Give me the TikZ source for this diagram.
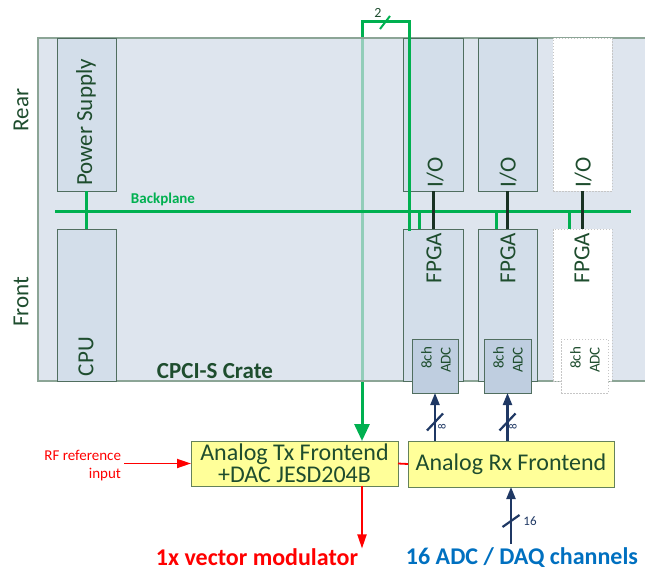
\documentclass[tikz,border=0pt]{standalone}
\usepackage{fontspec}
\setmainfont{Carlito}
\usetikzlibrary{arrows.meta}
\definecolor{crateFill}{RGB}{208,218,231}
\definecolor{crateLine}{RGB}{140,165,150}
\definecolor{modFill}{RGB}{211,222,234}
\definecolor{modLine}{RGB}{80,110,95}
\definecolor{adcFill}{RGB}{191,206,224}
\definecolor{bpGreen}{RGB}{0,176,80}
\definecolor{txtGreen}{RGB}{30,77,46}
\definecolor{yel}{RGB}{255,255,153}
\definecolor{yelLine}{RGB}{100,130,90}
\definecolor{navy}{RGB}{31,56,100}
\definecolor{blueTxt}{RGB}{0,112,192}
\definecolor{linkBlack}{RGB}{25,50,35}
\pgfdeclarelayer{back}
\pgfsetlayers{back,main}
\begin{document}
\begin{tikzpicture}[x=1pt,y=-1pt,
  every node/.style={inner sep=0pt, outer sep=0pt},
  crate/.style={draw=crateLine, line width=1.2pt, fill=crateFill, fill opacity=0.7, anchor=north west},
  module/.style={draw=modLine, line width=0.9pt, fill=modFill, anchor=north west},
  ghost/.style={draw=gray!45, line width=0.8pt, dash pattern=on 1.5pt off 1.5pt, fill=white, anchor=north west},
  adcbox/.style={module, fill=adcFill},
  vlab/.style={rotate=90, text=txtGreen, font=\fontsize{23}{23}\selectfont},
  adclab/.style={rotate=90, text=txtGreen, font=\fontsize{15}{19}\selectfont, align=right},
  bus/.style={draw=bpGreen, line width=3pt},
  link/.style={draw=linkBlack, line width=3pt},
  fe/.style={draw=yelLine, line width=1pt, fill=yel, anchor=north west, text=txtGreen, font=\fontsize{24}{22}\selectfont, align=center},
  redline/.style={draw=red, line width=1.8pt},
  navyline/.style={draw=navy, line width=2.2pt},
  gtip/.style={-{Triangle[length=17pt,width=15pt]}},
  rtip/.style={-{Triangle[length=14pt,width=9pt]}},
  ntip/.style={-{Triangle[length=12pt,width=9pt]}}]
\useasboundingbox (0,0) rectangle (645,575);

% crate
\node[crate, minimum width=610pt, minimum height=343pt] (crate) at (38,38) {};

% modules rear
\node[module, minimum width=59pt, minimum height=153pt] (ps) at (57,38) {};
\node[module, minimum width=60pt, minimum height=153pt] (io1) at (403,38) {};
\node[module, minimum width=59pt, minimum height=153pt] (io2) at (478,38) {};
\node[ghost, minimum width=59pt, minimum height=153pt] (io3) at (553,38) {};
% modules front
\node[module, minimum width=59pt, minimum height=152pt] (cpu) at (57,229) {};
\node[module, minimum width=60pt, minimum height=152pt] (fpga1) at (403,229) {};
\node[module, minimum width=59pt, minimum height=152pt] (fpga2) at (478,229) {};
\node[ghost, minimum width=59pt, minimum height=152pt] (fpga3) at (553,229) {};
% ADCs
\node[adcbox, minimum width=46pt, minimum height=54pt] (adc1) at (412,339) {};
\node[adcbox, minimum width=47pt, minimum height=54pt] (adc2) at (484,339) {};
\node[ghost, minimum width=47pt, minimum height=54pt] (adc3) at (561,339) {};

% labels
\node[vlab] (rear) at (21,110) {Rear};
\node[vlab] (front) at (21,302) {Front};
\node[vlab, anchor=west] (pslab) at (86,186) {Power Supply};
\node[vlab, anchor=west] (cpulab) at (86,376) {CPU};
\node[vlab, anchor=west] (io1lab) at (435,187) {I/O};
\node[vlab, anchor=west] (io2lab) at (508,187) {I/O};
\node[vlab, anchor=west] (io3lab) at (583,187) {I/O};
\node[vlab, anchor=east] (f1lab) at (434,233) {FPGA};
\node[vlab, anchor=east] (f2lab) at (508,233) {FPGA};
\node[vlab, anchor=east] (f3lab) at (582,233) {FPGA};
\node[adclab] (a1lab) at (436,360) {8ch\\ADC};
\node[adclab] (a2lab) at (508,360) {8ch\\ADC};
\node[adclab] (a3lab) at (585,360) {8ch\\ADC};
\node[text=txtGreen, font=\bfseries\fontsize{23}{23}\selectfont] (cratelab) at (215,371) {CPCI-S Crate};
\node[text=bpGreen, font=\bfseries\fontsize{15}{15}\selectfont] (bplab) at (163,199) {Backplane};

% backplane
\coordinate (bpL) at (55,211);
\coordinate (bpR) at (631,211);
\draw[bus] (bpL) -- (bpR);
\draw[bus] (ps.south) -- (cpu.north);
\coordinate (s1) at ([xshift=16pt]fpga1.north west);
\coordinate (s2) at ([xshift=18pt]fpga2.north west);
\coordinate (s3) at ([xshift=16pt]fpga3.north west);
\draw[bus] (s1 |- bpL) -- (s1);
\draw[bus] (s2 |- bpL) -- (s2);
\draw[bus] (s3 |- bpL) -- (s3);
\draw[link] (io1.south) -- (fpga1.north);
\draw[link] (io2.south) -- (fpga2.north);
\draw[link] (io3.south) -- (fpga3.north);

% frontends
\node[fe, minimum width=207pt, minimum height=45pt] (tx) at (191,441) {Analog Tx Frontend\\+DAC JESD204B};
\node[fe, minimum width=206pt, minimum height=46pt] (rx) at (408,441) {Analog Rx Frontend};
\draw[redline] (tx.east) -- (rx.west);

% green route from FPGA to Tx
\coordinate (g1) at (409,22);
\coordinate (g2) at (362,22);
\draw[bus, line cap=rect] (g1 |- fpga1.north) -- (g1);
\begin{pgfonlayer}{back}
\draw[bus, line cap=rect, gtip] (g1) -- (g2) -- (tx.north -| g2);
\end{pgfonlayer}
\coordinate (gm) at (385,22);
\draw[draw=bpGreen, line width=2pt] ([shift={(-5,7)}]gm) -- ([shift={(5,-6)}]gm);
\node[text=txtGreen, font=\fontsize{14}{14}\selectfont] (two) at (378,13) {2};

% ADC inputs
\coordinate (lv) at (0,422);
\coordinate (m1) at (adc1.south |- lv);
\coordinate (m2) at (adc2.south |- lv);
\draw[navyline, ntip] (rx.north -| adc1.south) -- (adc1.south);
\draw[navyline, ntip] (rx.north -| adc2.south) -- (adc2.south);
\draw[navyline] ([shift={(-8,8.5)}]m1) -- ([shift={(8,-8.5)}]m1);
\draw[navyline] ([shift={(-8,8.5)}]m2) -- ([shift={(8,-8.5)}]m2);
\node[rotate=90, text=navy, font=\fontsize{11}{11}\selectfont] (n8a) at (442,427) {8};
\node[rotate=90, text=navy, font=\fontsize{11}{11}\selectfont] (n8b) at (513,427) {8};

% RF reference
\node[text=red, font=\fontsize{15}{18}\selectfont, align=right, anchor=east] (rf) at (121,466) {RF reference\\input};
\draw[redline, rtip, shorten <=3pt] (rf.east |- tx.west) -- (tx.west);

% outputs
\node[text=red, font=\bfseries\fontsize{24}{24}\selectfont] (vm) at (257,557) {1x vector modulator};
\draw[redline, rtip] (tx.south -| g2) -- (vm.north -| g2);
\node[text=blueTxt, font=\bfseries\fontsize{24}{24}\selectfont] (daq) at (522,558) {16 ADC / DAQ channels};
\draw[navyline, ntip, shorten <=4pt] (daq.north -| rx.south) -- (rx.south);
\coordinate (m3) at (rx.south |- 0,521);
\draw[navyline] ([shift={(-8.5,6)}]m3) -- ([shift={(8.5,-6)}]m3);
\node[text=navy, font=\fontsize{13}{13}\selectfont] (n16) at (530,521) {16};
\end{tikzpicture}
\end{document}
